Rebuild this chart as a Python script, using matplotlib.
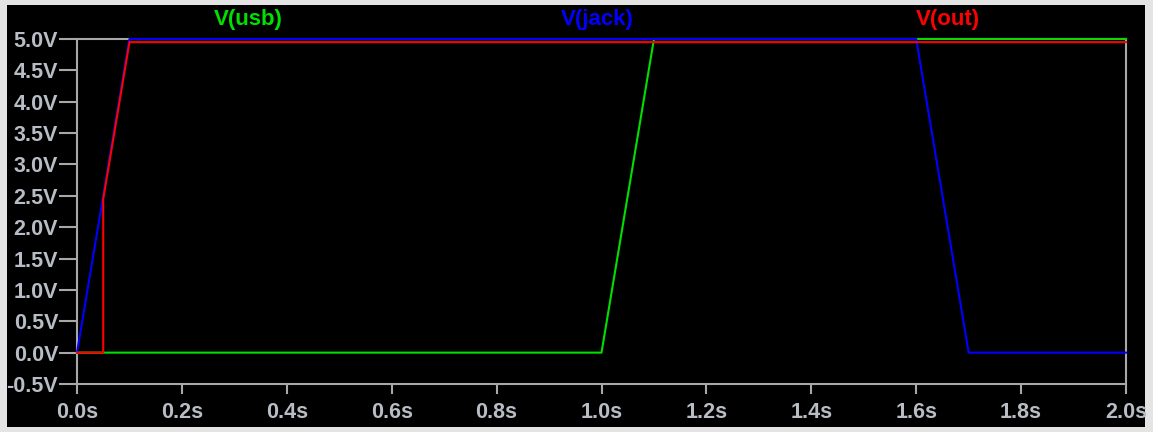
"""
LTspice-style transient plot: V(usb), V(jack), V(out) over 2 seconds.
"""

import matplotlib.pyplot as plt
from matplotlib.patches import Rectangle

# Trace breakpoints
T_USB = [0.0, 1.0, 1.1, 2.0]
V_USB = [0.0, 0.0, 5.0, 5.0]

T_JACK = [0.0, 0.1, 1.6, 1.7, 2.0]
V_JACK = [0.0, 5.0, 5.0, 0.0, 0.0]

T_OUT = [0.0, 0.05, 0.05, 0.1, 2.0]
V_OUT = [0.0, 0.0, 2.45, 4.95, 4.95]

X_TICKS = [0.0, 0.2, 0.4, 0.6, 0.8, 1.0, 1.2, 1.4, 1.6, 1.8, 2.0]
Y_TICKS = [-0.5, 0.0, 0.5, 1.0, 1.5, 2.0, 2.5, 3.0, 3.5, 4.0, 4.5, 5.0]

GREEN = '#00e000'
BLUE = '#0000ff'
RED = '#ff0000'
FRAME = '#a8a8a8'
LABEL = '#b8bcc4'

W, H = 1153, 432

plt.rcParams['font.family'] = ['Liberation Sans', 'DejaVu Sans']

fig = plt.figure(figsize=(W / 100, H / 100), dpi=100, facecolor='#e4e4e4')
# black pane inside the window border
fig.patches.append(Rectangle((7 / W, 5 / H), 1138 / W, 422 / H,
                             transform=fig.transFigure, facecolor='black',
                             edgecolor='none', zorder=-10))

ax = fig.add_axes([77 / W, 48 / H, 1049 / W, 345 / H], facecolor='black')

# traces sit on the frame at 5.0V, so no clipping
ax.plot(T_USB, V_USB, color=GREEN, linewidth=1.5, zorder=3, clip_on=False)
ax.plot(T_JACK, V_JACK, color=BLUE, linewidth=1.5, zorder=4, clip_on=False)
ax.plot(T_OUT, V_OUT, color=RED, linewidth=1.5, zorder=5, clip_on=False)

ax.set_xlim(0, 2.0)
ax.set_ylim(-0.5, 5.0)
ax.set_xticks(X_TICKS)
ax.set_xticklabels([f'{t:.1f}s' for t in X_TICKS])
ax.set_yticks(Y_TICKS)
ax.set_yticklabels([f'{v:.1f}V' for v in Y_TICKS])

for s in ax.spines.values():
    s.set_color(FRAME)
    s.set_linewidth(1.5)
    s.set_zorder(2)

ax.tick_params(axis='x', colors=FRAME, labelcolor=LABEL, length=7, width=1.5,
               pad=6, labelsize=15.5)
ax.tick_params(axis='y', colors=FRAME, labelcolor=LABEL, length=13, width=1.5,
               pad=0.5, labelsize=15.5)
for lab in ax.get_xticklabels() + ax.get_yticklabels():
    lab.set_fontweight('bold')

# trace names across the top
fig.text(248 / W, 1 - 20 / H, 'V(usb)', color=GREEN, fontsize=16,
         fontweight='bold', ha='center', va='center')
fig.text(597 / W, 1 - 20 / H, 'V(jack)', color=BLUE, fontsize=16,
         fontweight='bold', ha='center', va='center')
fig.text(948 / W, 1 - 20 / H, 'V(out)', color=RED, fontsize=16,
         fontweight='bold', ha='center', va='center')

fig.savefig('out.png', dpi=100, facecolor=fig.get_facecolor())
